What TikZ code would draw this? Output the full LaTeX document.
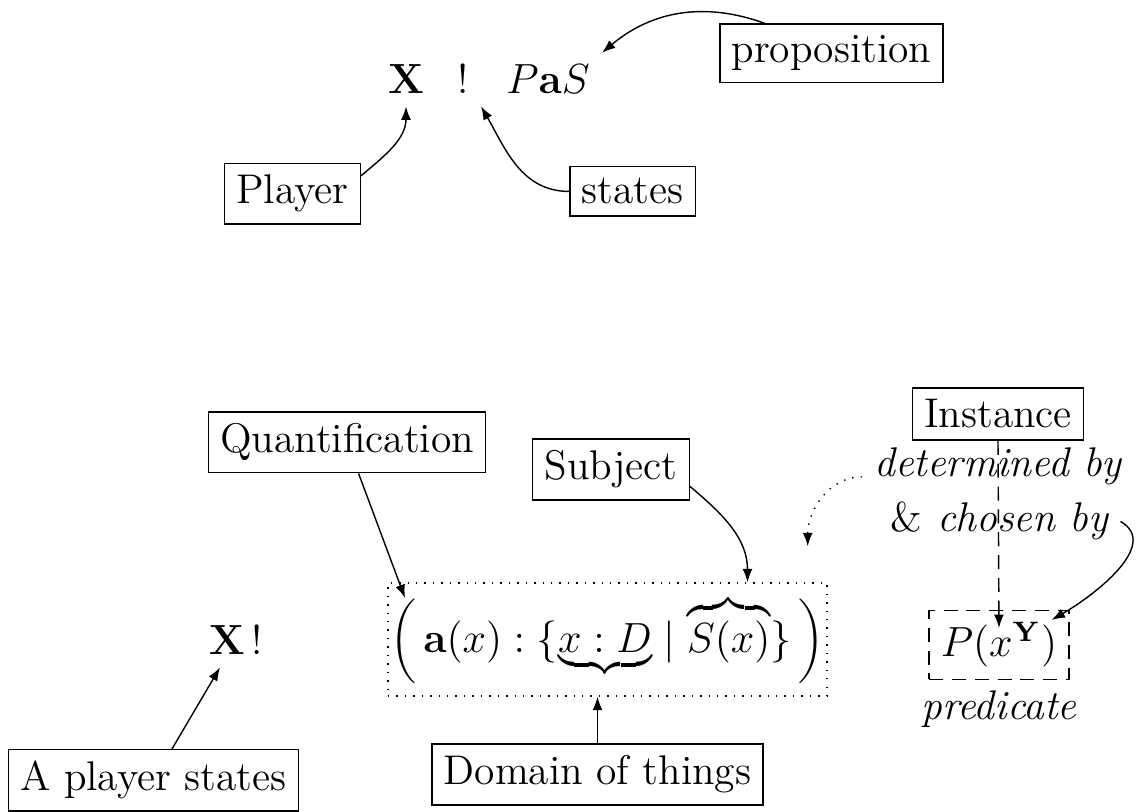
\documentclass[tikz,border=0pt]{standalone}
\usetikzlibrary{arrows.meta,positioning}

\begin{document}
\begin{tikzpicture}[
font=\fontsize{11.8}{14}\selectfont,
box/.style={draw, rectangle, anchor=base},
word/.style={anchor=base},
note/.style={anchor=base, font=\fontsize{11.8}{14}\selectfont\itshape},
dashbox/.style={draw, dash pattern=on 4pt off 2.5pt, anchor=base},
arrow/.style={-{Latex[length=3.8pt,width=2.8pt]}}
]
\useasboundingbox (0,0) rectangle (11.37,8.12);

% the statement and its parts
\node[word] (xsym) at (4.06,7.18) {$\mathbf{X}$};
\node[word] (bang) at (4.63,7.18) {!};
\node[word] (pas) at (5.48,7.18) {$P\mathbf{a}S$};

\node[box] (proposition) at (8.315,7.49) {proposition};
\node[box] (player) at (2.925,6.08) {Player};
\node[box] (states) at (6.325,6.08) {states};

\draw[arrow] ([yshift=-0.13cm]player.north east) to[out=40,in=-90] (xsym.south);
\draw[arrow] (states.west) to[out=180,in=-60] (bang.south east);
\draw[arrow] ([xshift=0.46cm]proposition.north west) to[out=160,in=40] (pas.north east);

% the quantified form
\node[word] (xbang) at (2.36,1.57) {$\mathbf{X}$\,!};
\node[box] (aps) at (1.535,0.21) {A player states};
\draw[arrow] (aps) -- (xbang);

\node[draw, dotted, inner sep=0pt, minimum width=4.39cm, minimum height=1.13cm] (formula) at (6.075,1.725)
  {$\bigg(\,\mathbf{a}(x) : \{\underbrace{x : D} \mid \overbrace{S(x)}\}\,\bigg)$};

\node[box] (quant) at (3.47,3.59) {Quantification};
\node[box] (subject) at (6.11,3.32) {Subject};
\node[box] (domain) at (5.975,0.27) {Domain of things};

\coordinate (lparen) at (4.05,2.14);
\draw[arrow] (quant) -- (lparen);
\draw[arrow] (subject.-12) to[out=-40,in=90] ([xshift=1.4cm]formula.north);
\draw[arrow] (domain) -- (domain |- formula.south);

% instance and predicate
\node[box] (instance) at (9.98,3.84) {Instance};
\node[note] (det) at (9.98,3.35) {determined by};
\node[note] (chosen) at (9.995,2.80) {\textup{\&} chosen by};
\node[dashbox] (pxy) at (9.99,1.55) {$P(x^{\mathbf{Y}})$};
\node[note] (pred) at (9.99,0.92) {predicate};

\draw[arrow, dash pattern=on 4pt off 2.5pt] (instance.south) -- ([yshift=-0.18cm]pxy.north);
\draw[arrow, dotted] (det.base west) to[out=180,in=90] ([xshift=-0.2cm,yshift=0.36cm]formula.north east);
\draw[arrow] (chosen.east) to[out=-30,in=30] ([xshift=-0.18cm,yshift=-0.1cm]pxy.north east);

\end{tikzpicture}
\end{document}
